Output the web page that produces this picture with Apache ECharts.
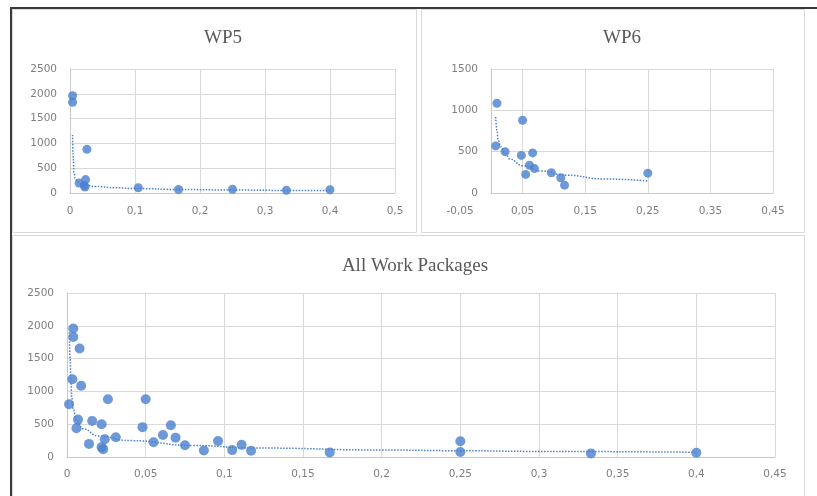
<!DOCTYPE html>
<html>
<head>
<meta charset="utf-8">
<script src="https://cdn.jsdelivr.net/npm/echarts@6/dist/echarts.min.js"></script>
<style>
  html, body { margin: 0; padding: 0; background: #ffffff; }
  #chart { width: 817px; height: 496px; }
</style>
</head>
<body>
<div id="chart"></div>
<script>
// WP5: share of package vs. value
const wp5X = [0.004, 0.004, 0.026, 0.014, 0.024, 0.022, 0.023, 0.105, 0.167, 0.25, 0.333, 0.4];
const wp5Y = [1960, 1830, 880, 200, 270, 150, 120, 105, 70, 75, 55, 65];
// WP5 trend line, sampled along the fitted curve
const wp5TrendX = [0.004, 0.005, 0.006, 0.008, 0.012, 0.02, 0.04, 0.07, 0.1, 0.17, 0.25, 0.33, 0.4];
const wp5TrendY = [1170, 700, 420, 300, 220, 170, 130, 105, 90, 70, 60, 52, 48];

// WP6
const wp6X = [0.009, 0.050, 0.007, 0.022, 0.048, 0.066, 0.055, 0.061, 0.069, 0.096, 0.111, 0.117, 0.25];
const wp6Y = [1085, 880, 570, 500, 455, 485, 225, 335, 295, 245, 185, 95, 240];
const wp6TrendX = [0.007, 0.009, 0.011, 0.015, 0.022, 0.03, 0.05, 0.08, 0.12, 0.18, 0.25];
const wp6TrendY = [920, 760, 640, 560, 480, 410, 330, 265, 215, 170, 145];

// All work packages (WP5 + WP6 + remaining packages)
const otherX = [0.008, 0.0034, 0.0013, 0.006, 0.016, 0.031, 0.075, 0.087];
const otherY = [1655, 1185, 805, 437, 549, 300, 180, 100];
const allX = wp5X.concat(wp6X, otherX);
const allY = wp5Y.concat(wp6Y, otherY);
const allTrendX = [0.0015, 0.002, 0.0025, 0.003, 0.004, 0.006, 0.01, 0.02, 0.04, 0.08, 0.12, 0.2, 0.25, 0.3, 0.4];
const allTrendY = [1900, 1500, 1150, 900, 720, 560, 430, 320, 250, 175, 137, 107, 96, 85, 72];

// Axis ranges / tick steps
const wp5XRange = [0, 0.5, 0.1];
const wp5YRange = [0, 2500, 500];
const wp6XRange = [-0.05, 0.45, 0.1];
const wp6YRange = [0, 1500, 500];
const allXRange = [0, 0.45, 0.05];
const allYRange = [0, 2500, 500];

const titles = ['WP5', 'WP6', 'All Work Packages'];

const pairs = (xs, ys) => xs.map((x, i) => [x, ys[i]]);
const fmt = v => String(Math.round(v * 1000) / 1000).replace('.', ',');

const BLUE = '#4a80d0';
const GRID = '#d9d9d9';
const AXIS = '#c8c8c8';
const LABEL = { color: '#7f7f7f', fontSize: 10.5, fontFamily: 'DejaVu Sans' };
const TITLE = { color: '#595959', fontSize: 19, fontFamily: 'Liberation Serif', fontWeight: 'normal' };

function valueAxis(gridIndex, range, extra) {
  return Object.assign({
    type: 'value', gridIndex,
    min: range[0], max: range[1], interval: range[2],
    axisLine: { show: true, onZero: true, lineStyle: { color: AXIS, width: 1 } },
    axisTick: { show: false },
    axisLabel: Object.assign({ formatter: fmt, margin: 13 }, LABEL),
    splitLine: { show: true, lineStyle: { color: GRID, width: 1 } }
  }, extra || {});
}

const chart = echarts.init(document.getElementById('chart'), null, { renderer: 'canvas' });

chart.setOption({
  animation: false,
  backgroundColor: '#ffffff',
  title: [
    { text: titles[0], left: 218, top: 24, textAlign: 'center', textStyle: TITLE },
    { text: titles[1], left: 617, top: 24, textAlign: 'center', textStyle: TITLE },
    { text: titles[2], left: 410, top: 252, textAlign: 'center', textStyle: TITLE }
  ],
  graphic: [
    // panel frames
    { type: 'rect', shape: { x: 12.5, y: 9.5, width: 404, height: 223 }, style: { fill: null, stroke: '#d9d9d9', lineWidth: 1 }, silent: true },
    { type: 'rect', shape: { x: 421.5, y: 9.5, width: 383, height: 223 }, style: { fill: null, stroke: '#d9d9d9', lineWidth: 1 }, silent: true },
    { type: 'rect', shape: { x: 12.5, y: 235.5, width: 792, height: 270 }, style: { fill: null, stroke: '#d9d9d9', lineWidth: 1 }, silent: true },
    // outer dark frame
    { type: 'line', shape: { x1: 11, y1: 8, x2: 817, y2: 8 }, style: { stroke: '#3a3a3a', lineWidth: 2 }, silent: true },
    { type: 'line', shape: { x1: 11, y1: 7, x2: 11, y2: 496 }, style: { stroke: '#3a3a3a', lineWidth: 2 }, silent: true }
  ],
  grid: [
    { left: 70, top: 69, width: 325, height: 124 },
    { left: 460, top: 69, width: 313, height: 124 },
    // WP6 value area from x = 0 rightwards (horizontal gridlines and y labels)
    { left: 491, top: 69, width: 282, height: 124 },
    { left: 67, top: 293, width: 708, height: 164 }
  ],
  xAxis: [
    valueAxis(0, wp5XRange),
    valueAxis(1, wp6XRange, {
      axisLine: { show: false },
      splitLine: { show: true, showMinLine: false, lineStyle: { color: GRID, width: 1 } }
    }),
    valueAxis(2, [0, 0.45, 0.45], {
      axisLabel: { show: false },
      splitLine: { show: false }
    }),
    valueAxis(3, allXRange, { axisLabel: Object.assign({ formatter: fmt, margin: 12 }, LABEL) })
  ],
  yAxis: [
    valueAxis(0, wp5YRange),
    valueAxis(1, wp6YRange, { show: false }),
    valueAxis(2, wp6YRange),
    valueAxis(3, allYRange)
  ],
  series: [
    { type: 'line', xAxisIndex: 0, yAxisIndex: 0, data: pairs(wp5TrendX, wp5TrendY), smooth: true, smoothMonotone: 'x', symbol: 'none',
      lineStyle: { color: BLUE, width: 1.5, type: 'dotted' }, z: 1 },
    { type: 'scatter', xAxisIndex: 0, yAxisIndex: 0, data: pairs(wp5X, wp5Y), symbolSize: 9, itemStyle: { color: BLUE }, z: 2 },

    { type: 'line', xAxisIndex: 1, yAxisIndex: 1, data: pairs(wp6TrendX, wp6TrendY), smooth: true, smoothMonotone: 'x', symbol: 'none',
      lineStyle: { color: BLUE, width: 1.5, type: 'dotted' }, z: 1 },
    { type: 'scatter', xAxisIndex: 1, yAxisIndex: 1, data: pairs(wp6X, wp6Y), symbolSize: 9, itemStyle: { color: BLUE }, z: 2 },

    { type: 'line', xAxisIndex: 3, yAxisIndex: 3, data: pairs(allTrendX, allTrendY), smooth: true, smoothMonotone: 'x', symbol: 'none',
      lineStyle: { color: BLUE, width: 1.5, type: 'dotted' }, z: 1 },
    { type: 'scatter', xAxisIndex: 3, yAxisIndex: 3, data: pairs(allX, allY), symbolSize: 10, itemStyle: { color: BLUE }, z: 2 }
  ]
});
</script>
</body>
</html>
